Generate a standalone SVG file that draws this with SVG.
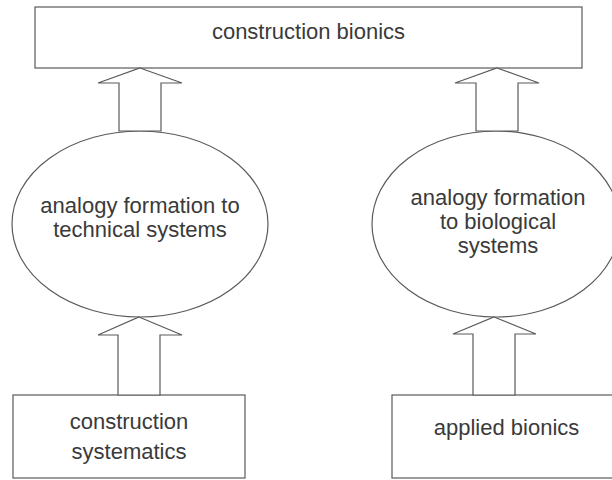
<svg xmlns="http://www.w3.org/2000/svg" width="612" height="480" viewBox="0 0 612 480">
  <style>
    .box { fill: #ffffff; stroke: #5a5a5a; stroke-width: 1.2; }
    .arrow { fill: #ffffff; stroke: #5a5a5a; stroke-width: 1.2; stroke-linejoin: miter; }
    .lbl { font-family: "Liberation Sans", Arial, sans-serif; font-size: 22px; fill: #3a3a3a; text-anchor: middle; }
  </style>
  <rect x="0" y="0" width="612" height="480" fill="#ffffff"/>
  <g id="construction-bionics">
    <rect class="box" x="35" y="7" width="547" height="61"/>
    <text class="lbl" x="308.5" y="39">construction bionics</text>
  </g>
  <g id="analogy-technical">
    <ellipse class="box" cx="140" cy="224" rx="128" ry="93"/>
    <text class="lbl" x="140" y="213">analogy formation to</text>
    <text class="lbl" x="140" y="237">technical systems</text>
  </g>
  <g id="analogy-biological">
    <ellipse class="box" cx="496" cy="224" rx="124" ry="93"/>
    <text class="lbl" x="498" y="205">analogy formation</text>
    <text class="lbl" x="498" y="229">to biological</text>
    <text class="lbl" x="498" y="253">systems</text>
  </g>
  <g id="construction-systematics">
    <rect class="box" x="13" y="395" width="232" height="83"/>
    <text class="lbl" x="129" y="429">construction</text>
    <text class="lbl" x="129" y="459">systematics</text>
  </g>
  <g id="applied-bionics">
    <rect class="box" x="392" y="395" width="230" height="83"/>
    <text class="lbl" x="506.5" y="435">applied bionics</text>
  </g>
  <g id="connectors">
    <polygon class="arrow" points="140,68 182,83 161,83 161,131 119,131 119,83 98,83"/>
    <polygon class="arrow" points="497,68 539,83 518,83 518,131 476,131 476,83 455,83"/>
    <polygon class="arrow" points="139,317 182,335 160,335 160,395 118,395 118,335 98,335"/>
    <polygon class="arrow" points="494,317 536,334 515,334 515,395 473,395 473,334 453,334"/>
  </g>
</svg>
